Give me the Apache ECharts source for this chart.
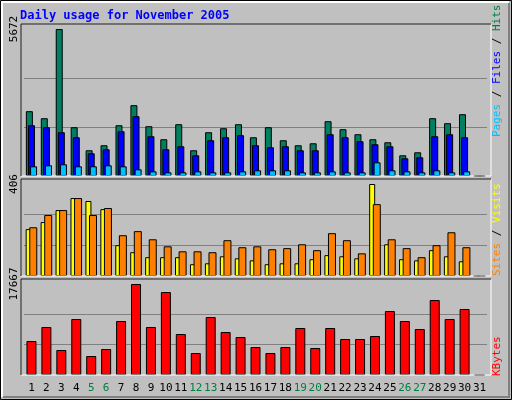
<!DOCTYPE html>
<html>
<head>
<meta charset="utf-8">
<script src="https://cdn.jsdelivr.net/npm/echarts@6/dist/echarts.min.js"></script>
<style>
  html, body { margin: 0; padding: 0; background: #c0c0c0; }
  #chart { width: 512px; height: 400px; }
</style>
</head>
<body>
<div id="chart"></div>
<script>
// Daily usage for November 2005 (webalizer style)
var days = [];
for (var d = 1; d <= 31; d++) days.push(String(d));
var weekendDays = ['5', '6', '12', '13', '19', '20', '26', '27'];

var hits = [2501, 2230, 5672, 1882, 993, 1186, 1959, 2733, 1921, 1418, 1998, 993, 1689, 1843, 1998,
  1495, 1882, 1379, 1186, 1263, 2114, 1805, 1611, 1418, 1302, 799, 915, 2230, 2037, 2385, 0];
var files = [1959, 1882, 1689, 1495, 877, 1031, 1727, 2307, 1534, 1031, 1147, 799, 1379, 1495, 1573,
  1186, 1109, 1147, 993, 993, 1611, 1495, 1341, 1225, 1147, 683, 722, 1534, 1611, 1495, 0];
var pages = [374, 412, 451, 374, 374, 412, 374, 258, 180, 142, 142, 180, 142, 142, 180,
  219, 219, 219, 142, 142, 180, 142, 142, 528, 219, 180, 142, 219, 142, 180, 0];
var visits = [207, 238, 291, 344, 331, 295, 136, 105, 83, 83, 83, 52, 56, 87, 78,
  69, 52, 56, 56, 74, 92, 87, 78, 406, 140, 74, 69, 114, 87, 65, 0];
var sites = [215, 269, 291, 344, 269, 300, 180, 198, 162, 131, 109, 109, 105, 158, 127,
  131, 118, 123, 140, 114, 189, 158, 100, 317, 162, 123, 83, 136, 193, 127, 0];
var kbytes = [6600, 9317, 4853, 10870, 3688, 5047, 10482, 17667, 9317, 16110, 7958, 4270, 11258, 8346, 7376,
  5435, 4270, 5435, 9123, 5241, 9123, 6988, 6988, 7570, 12422, 10482, 8929, 14558, 10870, 12811, 0];
var maxLabels = [5672, 406, 17667];

var panels = [
  { top: 25, bottom: 176 },
  { top: 180, bottom: 276 },
  { top: 280, bottom: 375 }
];
var font = 'DejaVu Sans Mono';

function yAxis(i) {
  var p = panels[i];
  var topPad = 4;
  var h = p.bottom - p.top;
  var m = maxLabels[i];
  return {
    type: 'value', gridIndex: i, min: 0,
    max: m * h / (h - topPad), interval: m / 3,
    axisLine: { show: false }, axisTick: { show: false },
    splitLine: { lineStyle: { color: ['transparent', '#808080', '#808080', 'transparent'], width: 1 } },
    axisLabel: {
      rotate: 90, margin: 4, fontFamily: font, fontSize: 11, color: '#000',
      formatter: function (v) { return Math.abs(v - m) < 0.5 ? String(m) : ''; }
    }
  };
}

function xAxis(i) {
  return {
    type: 'category', gridIndex: i, data: days,
    axisLine: { show: false }, axisTick: { show: false },
    axisLabel: {
      show: i === 2, margin: 8, fontFamily: font, fontSize: 11, interval: 0,
      color: function (v) { return weekendDays.indexOf(v) >= 0 ? '#008040' : '#000'; }
    }
  };
}

var barStyle = function (c) { return { color: c, borderColor: '#000', borderWidth: 1 }; };

function frame(p) {
  return [
    { type: 'rect', shape: { x: 21, y: p.top - 1, width: 470, height: p.bottom - p.top + 1 },
      style: { fill: 'none', stroke: '#fff', lineWidth: 1 }, z: 100 },
    { type: 'polyline', shape: { points: [[21, p.bottom], [21, p.top - 1], [491, p.top - 1]] },
      style: { fill: 'none', stroke: '#000', lineWidth: 1 }, z: 101 }
  ];
}

function sideText(x, y, parts) {
  var text = parts.map(function (p, k) { return '{s' + k + '|' + p[0] + '}'; }).join('');
  var rich = {};
  parts.forEach(function (p, k) { rich['s' + k] = { fill: p[1], fontFamily: font, fontSize: 11 }; });
  return { type: 'text', x: x, y: y, rotation: Math.PI / 2, z: 100,
    style: { text: text, rich: rich, verticalAlign: 'middle', align: 'left' } };
}

var graphics = [
  { type: 'rect', shape: { x: 0.5, y: 0.5, width: 511, height: 399 },
    style: { fill: 'none', stroke: '#000', lineWidth: 1 } },
  { type: 'polyline', shape: { points: [[2, 397], [2, 2], [509, 2]] }, style: { fill: 'none', stroke: '#fff', lineWidth: 2 } },
  { type: 'polyline', shape: { points: [[3, 397], [509, 397], [509, 3]] }, style: { fill: 'none', stroke: '#808080', lineWidth: 2 } },
  { type: 'text', x: 20, y: 16, style: { text: 'Daily usage for November 2005', fill: '#0000ff',
    fontFamily: font, fontSize: 12, fontWeight: 'bold', verticalAlign: 'middle' } },
  sideText(497, 137, [['Pages', '#00c0ff'], [' / ', '#000'], ['Files', '#0000ff'], [' / ', '#000'], ['Hits', '#008040']]),
  sideText(497, 276, [['Sites', '#ff8000'], [' / ', '#000'], ['Visits', '#ffff00']]),
  sideText(497, 376, [['KBytes', '#ff0000']])
];
panels.forEach(function (p) { graphics = graphics.concat(frame(p)); });

var option = {
  backgroundColor: '#c0c0c0',
  animation: false,
  grid: panels.map(function (p) {
    return { left: 24, width: 463, top: p.top, height: p.bottom - p.top };
  }),
  xAxis: [xAxis(0), xAxis(1), xAxis(2)],
  yAxis: [yAxis(0), yAxis(1), yAxis(2)],
  series: [
    { name: 'Hits', type: 'bar', xAxisIndex: 0, yAxisIndex: 0, data: hits, barWidth: 7, barGap: '-70%', itemStyle: barStyle('#008060') },
    { name: 'Files', type: 'bar', xAxisIndex: 0, yAxisIndex: 0, data: files, barWidth: 7, barGap: '-70%', itemStyle: barStyle('#0000ff') },
    { name: 'Pages', type: 'bar', xAxisIndex: 0, yAxisIndex: 0, data: pages, barWidth: 7, barGap: '-70%', itemStyle: barStyle('#00c0ff') },
    { name: 'Visits', type: 'bar', xAxisIndex: 1, yAxisIndex: 1, data: visits, barWidth: 6, barGap: '-40%', itemStyle: barStyle('#ffff00') },
    { name: 'Sites', type: 'bar', xAxisIndex: 1, yAxisIndex: 1, data: sites, barWidth: 8, barGap: '-40%', itemStyle: barStyle('#ff8000') },
    { name: 'KBytes', type: 'bar', xAxisIndex: 2, yAxisIndex: 2, data: kbytes, barWidth: 10, itemStyle: barStyle('#ff0000') }
  ],
  graphic: graphics
};

var myChart = echarts.init(document.getElementById('chart'));
myChart.setOption(option);
</script>
</body>
</html>
